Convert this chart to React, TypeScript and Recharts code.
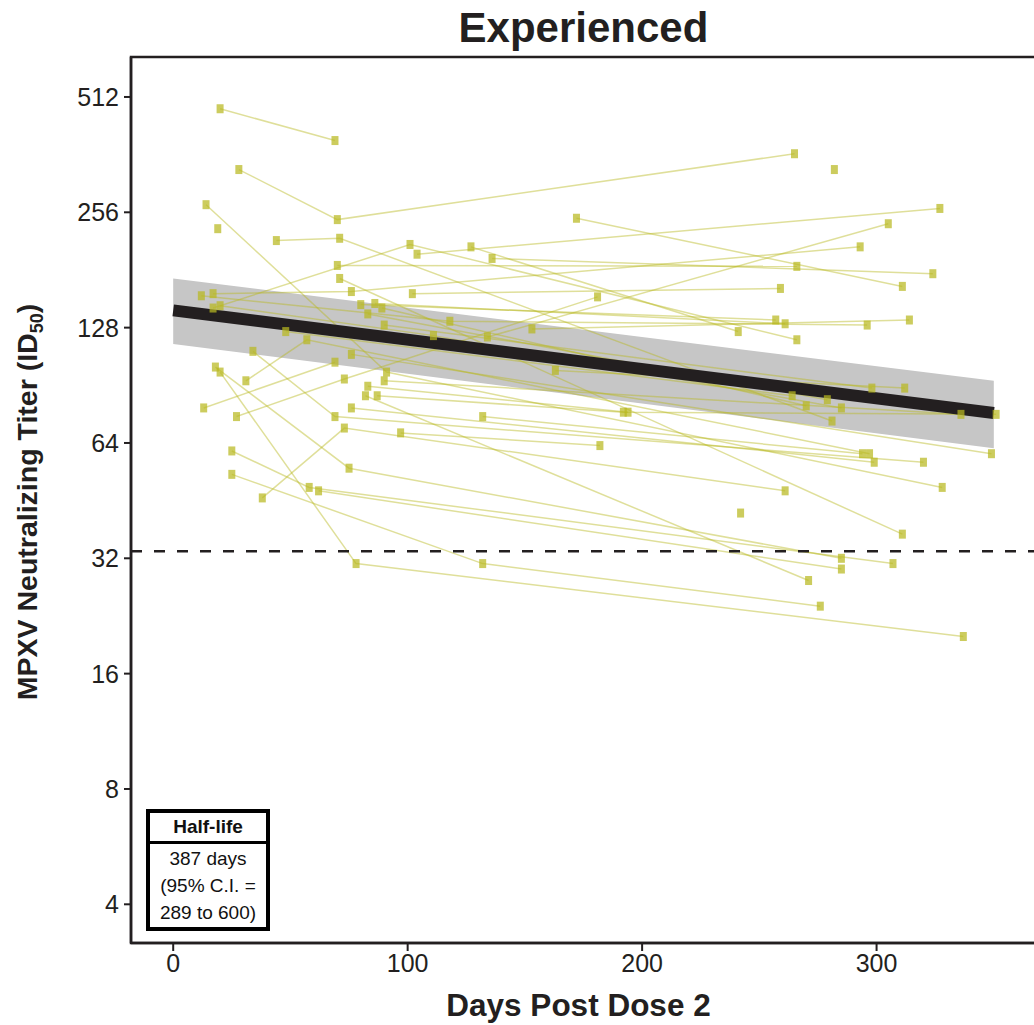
import React from 'react'
import {
  ComposedChart,
  Line,
  Area,
  XAxis,
  YAxis,
  ReferenceLine,
  ReferenceArea,
} from 'recharts'

// one row per subject: sampling days and matching ID50 titers
const subjectDays = [
  [20, 69], [28, 70, 265], [44, 71, 281], [14, 91, 328], [19], [282],
  [104, 327], [70, 266], [172, 311], [127, 241], [136, 324], [17, 76, 293],
  [134, 305], [27, 73, 181], [102, 259], [38, 73, 261], [97, 182], [20, 78, 337],
  [25, 132, 276], [18, 75, 285], [25, 58, 307], [62, 285], [132, 294], [76, 299],
  [34, 69, 320], [87, 192, 351], [83, 194], [90, 336], [82, 271], [17, 101, 266],
  [12, 118, 296], [20, 111, 285], [153, 314], [80, 257], [86, 261], [90, 298],
  [163, 312], [76, 349], [48, 264], [83, 279], [89, 270], [13, 69],
  [31, 57, 297], [242], [71, 311],
]
const subjectTiters = [
  [477, 394], [331, 245, 364], [216, 219, 73], [268, 98, 49], [232], [331],
  [199, 262], [186, 185], [247, 164], [208, 125], [194, 177], [157, 159, 208],
  [121, 239], [75, 94, 154], [157, 162], [46, 70, 48], [68, 63], [98, 31, 20],
  [53, 31, 24], [101, 55, 32], [61, 49, 31], [48, 30], [75, 60], [79, 57],
  [111, 75, 57], [85, 77, 76], [90, 77], [93, 76], [85, 28], [144, 211, 119],
  [155, 133, 130], [146, 122, 79], [127, 134], [147, 134], [148, 131], [130, 89],
  [99, 89], [109, 60], [125, 85], [139, 83], [144, 80], [79, 104],
  [93, 119, 60], [42], [172, 37],
]

// mixed-effects fit with 95% band
const fitDays = [0, 350]
const fitTiter = [142, 76.6]
const ciLow = [116, 62]
const ciHigh = [172, 93]

const threshold = 33.4
const xTicks = [0, 100, 200, 300]
const yTicks = [4, 8, 16, 32, 64, 128, 256, 512]

const INK = '#231f20'
const DOT = '#b8b820'

const subjects = subjectDays.map((days, i) =>
  days.map((d, j) => ({ x: d, y: subjectTiters[i][j] })),
)
const fitData = fitDays.map((d, i) => ({ x: d, y: fitTiter[i] }))
const bandData = fitDays.map((d, i) => ({ x: d, band: [ciLow[i], ciHigh[i]] }))

const Square = (props: any) => {
  const { cx, cy, index } = props
  if (cx == null || cy == null) return <g key={`e${index}`} />
  return (
    <rect
      key={`d${index}`}
      x={cx - 3.5}
      y={cy - 4.5}
      width={7}
      height={9}
      fill={DOT}
      fillOpacity={0.72}
    />
  )
}

const YTitle = () => (
  <text
    transform="translate(37,502) rotate(-90)"
    textAnchor="middle"
    fontSize={28.5}
    fontWeight="bold"
    fill={INK}
    fontFamily='"Liberation Sans", Arial, sans-serif'
  >
    MPXV Neutralizing Titer (ID
    <tspan fontSize={18} dy={6}>50</tspan>
    <tspan dy={-6}>)</tspan>
  </text>
)

export default function App() {
  return (
    <div
      style={{
        position: 'absolute',
        left: 0,
        top: 0,
        width: 1034,
        height: 1025,
        overflow: 'hidden',
        background: '#fff',
        fontFamily: '"Liberation Sans", Arial, sans-serif',
        color: INK,
      }}
    >
      <div
        style={{
          position: 'absolute',
          left: 131,
          width: 905,
          top: 7,
          textAlign: 'center',
          fontSize: 42,
          lineHeight: '42px',
          fontWeight: 'bold',
        }}
      >
        Experienced
      </div>
      <ComposedChart
        width={1040}
        height={1025}
        margin={{ top: 57, right: 4, left: 0, bottom: 0 }}
        style={{ fontFamily: '"Liberation Sans", Arial, sans-serif' }}
      >
        <XAxis
          type="number"
          dataKey="x"
          domain={[-18, 368]}
          allowDataOverflow
          ticks={xTicks}
          height={82}
          tickSize={8}
          tickMargin={3}
          tick={{ fontSize: 25, fill: INK }}
          axisLine={{ stroke: INK, strokeWidth: 2.5 }}
          tickLine={{ stroke: INK, strokeWidth: 2 }}
          label={{
            value: 'Days Post Dose 2',
            position: 'insideBottom',
            offset: 9,
            dx: -5,
            fontSize: 31.5,
            fontWeight: 'bold',
            fill: INK,
          }}
        />
        <YAxis
          type="number"
          scale="log"
          domain={[3.17, 651]}
          allowDataOverflow
          ticks={yTicks}
          width={131}
          tickSize={7}
          tickMargin={5}
          tick={{ fontSize: 25, fill: INK }}
          axisLine={{ stroke: INK, strokeWidth: 2.5 }}
          tickLine={{ stroke: INK, strokeWidth: 2 }}
          label={<YTitle />}
        />
        <Area
          data={bandData}
          dataKey="band"
          type="linear"
          fill="#c6c6c6"
          fillOpacity={1}
          stroke="none"
          isAnimationActive={false}
        />
        {subjects.map((s, i) => (
          <Line
            key={i}
            data={s}
            dataKey="y"
            type="linear"
            stroke={DOT}
            strokeOpacity={0.45}
            strokeWidth={1.5}
            dot={Square}
            activeDot={false}
            isAnimationActive={false}
          />
        ))}
        <Line
          data={fitData}
          dataKey="y"
          type="linear"
          stroke={INK}
          strokeWidth={12}
          dot={false}
          activeDot={false}
          isAnimationActive={false}
        />
        <ReferenceLine
          y={threshold}
          stroke={INK}
          strokeWidth={2.5}
          strokeDasharray="11 12"
        />
        <ReferenceArea
          x1={-18}
          x2={368}
          y1={3.17}
          y2={651}
          fill="none"
          stroke={INK}
          strokeWidth={2.5}
        />
      </ComposedChart>
      <div
        style={{
          position: 'absolute',
          left: 146,
          top: 809,
          width: 116,
          border: '4px solid #000',
          background: '#fff',
          textAlign: 'center',
          fontSize: 19,
          color: '#111',
        }}
      >
        <div
          style={{
            fontWeight: 'bold',
            lineHeight: '28px',
            borderBottom: '3px solid #000',
          }}
        >
          Half-life
        </div>
        <div style={{ lineHeight: '27px', paddingTop: 1, paddingBottom: 1 }}>
          387 days
          <br />
          (95% C.I. =
          <br />
          289 to 600)
        </div>
      </div>
    </div>
  )
}
